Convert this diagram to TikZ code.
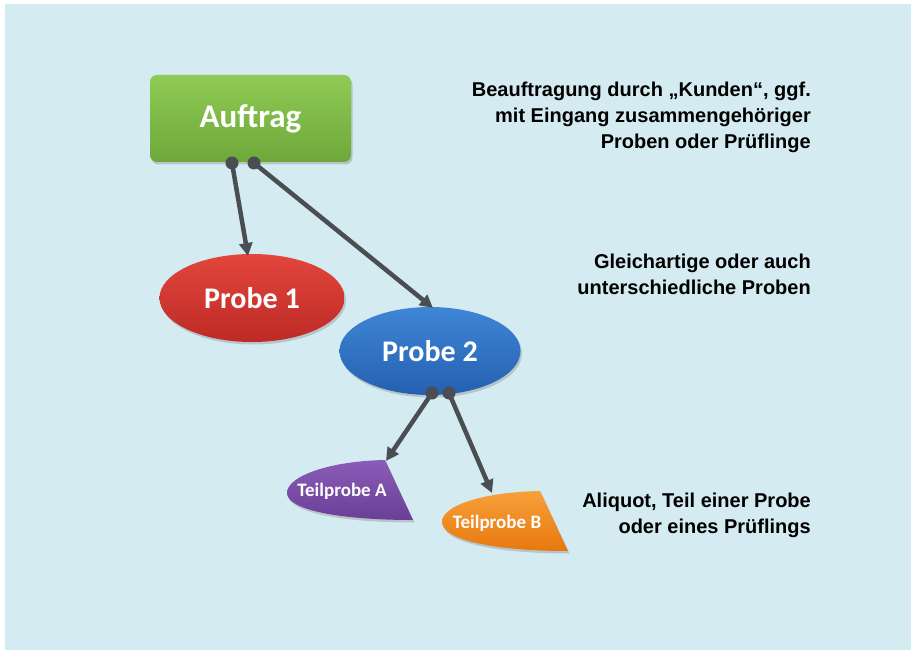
\documentclass[tikz,border=0pt]{standalone}
\usepackage{fontspec}
\setmainfont{Carlito}
\newfontfamily\arialfont{Liberation Sans}
\usetikzlibrary{shapes.geometric,arrows.meta,shadows}
\definecolor{bgblue}{HTML}{D4EBF1}
\definecolor{arrowgray}{HTML}{4A4D52}
\definecolor{greenT}{HTML}{8FCB55}
\definecolor{greenB}{HTML}{6EA83A}
\definecolor{redT}{HTML}{E2463C}
\definecolor{redB}{HTML}{BE2A26}
\definecolor{blueT}{HTML}{3F86D6}
\definecolor{blueB}{HTML}{2560B0}
\definecolor{purpleT}{HTML}{8A5CB8}
\definecolor{purpleB}{HTML}{6A3F96}
\definecolor{orangeT}{HTML}{F7A03A}
\definecolor{orangeB}{HTML}{E8780F}
\tikzset{
  shapebase/.style={drop shadow={shadow xshift=1.5pt,shadow yshift=-2.5pt,opacity=0.35}},
  boxstyle/.style={shapebase, rectangle, rounded corners=7pt, minimum width=201pt, minimum height=87pt,
     top color=greenT, bottom color=greenB, text=white, font=\bfseries\fontsize{33}{38}\selectfont},
  ellstyle/.style={shapebase, ellipse, minimum width=185pt, minimum height=88pt, inner sep=0pt,
     text=white, font=\bfseries\fontsize{30}{34}\selectfont},
  tplabel/.style={text=white, font=\bfseries\fontsize{19}{22}\selectfont, inner sep=0pt},
  conn/.style={draw=arrowgray, line width=4.5pt, -{Triangle[length=13pt,width=13pt]}},
  dot/.style={fill=arrowgray},
  note/.style={font=\arialfont\bfseries\fontsize{20}{26}\selectfont, align=right, inner sep=0pt, text=black}
}
\begin{document}
\begin{tikzpicture}[x=1pt,y=-1pt]
\useasboundingbox (0,0) rectangle (911,650);
\fill[white] (0,0) rectangle (911,650);
\fill[bgblue] (5,4) rectangle (911,650);

% main nodes
\node[boxstyle] (auftrag) at (250.5,118.5) {Auftrag};
\node[ellstyle, top color=redT, bottom color=redB] (probe1) at (252,298) {Probe 1};
\node[ellstyle, minimum width=181pt, top color=blueT, bottom color=blueB] (probe2) at (430,351) {Probe 2};

% sub-sample shapes
\path[shapebase, top color=purpleT, bottom color=purpleB]
  (385,460) .. controls (330,461) and (287,476) .. (287,493)
  .. controls (287,510) and (340,520) .. (413,520) -- cycle;
\node[tplabel] (tpa) at (342,491) {Teilprobe A};
\path[shapebase, top color=orangeT, bottom color=orangeB]
  (540,491) .. controls (485,492) and (442,505) .. (442,522)
  .. controls (442,540) and (495,551) .. (568,551) -- cycle;
\node[tplabel] (tpb) at (497,523) {Teilprobe B};

% connector endpoints
\coordinate (d1) at (232,163);
\coordinate (d2) at (254,163);
\coordinate (d3) at (432,393);
\coordinate (d4) at (449,393);
\coordinate (t1) at (248,256);
\coordinate (t2) at (433,308);
\coordinate (tA) at (386,461);
\coordinate (tB) at (492,493);

\draw[conn] (d1) -- (t1);
\draw[conn] (d2) -- (t2);
\draw[conn] (d3) -- (tA);
\draw[conn] (d4) -- (tB);
\foreach \d in {d1,d2,d3,d4} \fill[dot] (\d) circle (6.5pt);

% notes (anchor on last line's baseline)
\node[note, anchor=base east] (n1) at (811,148.5) {Beauftragung durch „Kunden“, ggf.\\mit Eingang zusammengehöriger\\Proben oder Prüflinge};
\node[note, anchor=base east] (n2) at (811,294) {Gleichartige oder auch\\unterschiedliche Proben};
\node[note, anchor=base east] (n3) at (811,533) {Aliquot, Teil einer Probe\hspace{7pt}\\oder eines Prüflings};
\end{tikzpicture}
\end{document}
